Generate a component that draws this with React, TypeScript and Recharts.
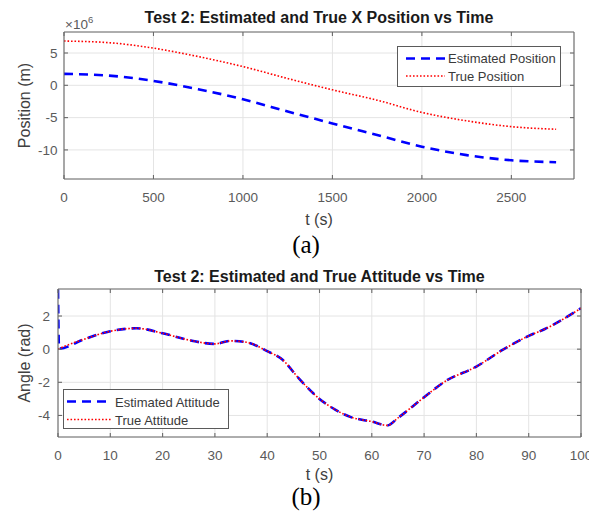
import React from 'react';
import { LineChart, Line, XAxis, YAxis, CartesianGrid, Legend } from 'recharts';

// ---------- Data (a): X position ----------
const posTime = [0, 250, 500, 750, 1000, 1250, 1500, 1750, 2000, 2250, 2500, 2750];
const estPos = [1.77, 1.5, 0.68, -0.6, -2.16, -4.05, -5.9, -7.7, -9.5, -10.8, -11.6, -11.9];
const truePos = [6.85, 6.6, 5.75, 4.45, 2.9, 1.05, -0.7, -2.3, -4.2, -5.5, -6.4, -6.8];
const posTicksX = [0, 500, 1000, 1500, 2000, 2500];
const posTicksY = [-10, -5, 0, 5];
const posDomainX = [0, 2850];
const posDomainY = [-14.5, 8.25];

// ---------- Data (b): attitude ----------
const attTime = [0, 0.2, 5, 10, 15, 20, 25, 30, 33, 36, 40, 43, 46, 50, 53, 56, 60, 63, 65, 70, 74, 80, 85, 90, 93, 100];
const estAtt = [3.6, 0.03, 0.6, 1.08, 1.26, 0.96, 0.55, 0.32, 0.5, 0.42, -0.12, -0.66, -1.75, -3.0, -3.65, -4.1, -4.37, -4.6, -4.15, -2.9, -1.95, -1.05, -0.05, 0.8, 1.2, 2.47];
const trueAtt = [0, 0.03, 0.6, 1.08, 1.26, 0.96, 0.55, 0.32, 0.5, 0.42, -0.12, -0.66, -1.75, -3.0, -3.65, -4.1, -4.37, -4.6, -4.15, -2.9, -1.95, -1.05, -0.05, 0.8, 1.2, 2.47];
const attTicksX = [0, 10, 20, 30, 40, 50, 60, 70, 80, 90, 100];
const attTicksY = [-4, -2, 0, 2];
const attDomainX = [0, 100];
const attDomainY = [-5.3, 3.63];

const posData = posTime.map((t, i) => ({ t, est: estPos[i], tru: truePos[i] }));
const attData = attTime.map((t, i) => ({ t, est: estAtt[i], tru: trueAtt[i] }));

const FONT = '"Liberation Sans", Arial, Helvetica, sans-serif';
const AX = '#6a6a6a';
const TICK = { fontSize: 13.5, fill: '#5a5a5a', fontFamily: FONT };
const BLUE = '#0000ff';
const RED = '#ff0000';
const noTick = () => <g />;
const axLine = { stroke: AX, strokeWidth: 1.1 };

type Item = { label: string; color: string; dash: string; width: number };

const LegendBox = ({ w, h, items, sx1, sx2, tx, rows }: { w: number; h: number; items: Item[]; sx1: number; sx2: number; tx: number; rows: { cy: number; base: number }[] }) => (
  <svg width={w} height={h} style={{ display: 'block' }}>
    <rect x={0.5} y={0.5} width={w - 1} height={h - 1} fill="#ffffff" stroke="#5a5a5a" strokeWidth={1} />
    {items.map((it, i) => (
      <g key={i}>
        <line x1={sx1} x2={sx2} y1={rows[i].cy} y2={rows[i].cy} stroke={it.color} strokeWidth={it.width} strokeDasharray={it.dash} />
        <text x={tx} y={rows[i].base} fontSize={13} fill="#3a3a3a" fontFamily={FONT}>{it.label}</text>
      </g>
    ))}
  </svg>
);

const EST_DASH = '9 6';
const TRUE_DASH = '1.6 1.9';

export default function App() {
  return (
    <div style={{ position: 'relative', width: 597, height: 518, margin: '-8px 0 0 -8px', background: '#ffffff', overflow: 'hidden' }}>
      {/* (a) */}
      <div style={{ position: 'absolute', left: 0, top: 0 }}>
        <LineChart width={597} height={250} data={posData} margin={{ top: 31, right: 22, left: 24, bottom: 41 }}>
          <CartesianGrid stroke="#e4e4e4" strokeWidth={1} />
          <XAxis dataKey="t" type="number" domain={posDomainX} ticks={posTicksX} allowDataOverflow height={30}
            tick={TICK} tickSize={-4} tickMargin={17} axisLine={axLine} tickLine={axLine} />
          <XAxis xAxisId="top" orientation="top" dataKey="t" type="number" domain={posDomainX} ticks={posTicksX} allowDataOverflow height={1}
            tick={noTick} tickSize={-4} axisLine={axLine} tickLine={axLine} />
          <YAxis type="number" domain={posDomainY} ticks={posTicksY} allowDataOverflow width={40}
            tick={TICK} tickSize={-4} tickMargin={10.5} axisLine={axLine} tickLine={axLine} />
          <YAxis yAxisId="right" orientation="right" type="number" domain={posDomainY} ticks={posTicksY} allowDataOverflow width={1}
            tick={noTick} tickSize={-4} axisLine={axLine} tickLine={axLine} />
          <Line dataKey="est" type="monotone" stroke={BLUE} strokeWidth={2.6} strokeDasharray={EST_DASH} dot={false} isAnimationActive={false} />
          <Line dataKey="tru" type="monotone" stroke={RED} strokeWidth={1.6} strokeDasharray={TRUE_DASH} dot={false} isAnimationActive={false} />
          <Legend layout="horizontal" verticalAlign="middle" align="center"
            wrapperStyle={{ left: 397, top: 46, width: 164, height: 41 }}
            content={() => (
              <LegendBox w={164} h={41} sx1={9} sx2={48} tx={51}
                rows={[{ cy: 12.5, base: 17.3 }, { cy: 30, base: 35 }]}
                items={[
                  { label: 'Estimated Position', color: BLUE, dash: EST_DASH, width: 2.6 },
                  { label: 'True Position', color: RED, dash: TRUE_DASH, width: 1.6 },
                ]} />
            )} />
        </LineChart>
      </div>

      {/* (b) */}
      <div style={{ position: 'absolute', left: 0, top: 250 }}>
        <LineChart width={597} height={268} data={attData} margin={{ top: 38, right: 15, left: 18, bottom: 51 }}>
          <CartesianGrid stroke="#e4e4e4" strokeWidth={1} />
          <XAxis dataKey="t" type="number" domain={attDomainX} ticks={attTicksX} allowDataOverflow height={30}
            tick={TICK} tickSize={-4} tickMargin={17} axisLine={axLine} tickLine={axLine} />
          <XAxis xAxisId="top" orientation="top" dataKey="t" type="number" domain={attDomainX} ticks={attTicksX} allowDataOverflow height={1}
            tick={noTick} tickSize={-4} axisLine={axLine} tickLine={axLine} />
          <YAxis type="number" domain={attDomainY} ticks={attTicksY} allowDataOverflow width={40}
            tick={TICK} tickSize={-4} tickMargin={12} axisLine={axLine} tickLine={axLine} />
          <YAxis yAxisId="right" orientation="right" type="number" domain={attDomainY} ticks={attTicksY} allowDataOverflow width={1}
            tick={noTick} tickSize={-4} axisLine={axLine} tickLine={axLine} />
          <Line dataKey="est" type="monotone" stroke={BLUE} strokeWidth={2.6} strokeDasharray={EST_DASH} dot={false} isAnimationActive={false} />
          <Line dataKey="tru" type="monotone" stroke={RED} strokeWidth={1.6} strokeDasharray={TRUE_DASH} dot={false} isAnimationActive={false} />
          <Legend layout="horizontal" verticalAlign="middle" align="center"
            wrapperStyle={{ left: 63, top: 139, width: 166, height: 40 }}
            content={() => (
              <LegendBox w={166} h={40} sx1={4} sx2={49} tx={52}
                rows={[{ cy: 12.5, base: 17.7 }, { cy: 30.5, base: 35.5 }]}
                items={[
                  { label: 'Estimated Attitude', color: BLUE, dash: EST_DASH, width: 2.6 },
                  { label: 'True Attitude', color: RED, dash: TRUE_DASH, width: 1.6 },
                ]} />
            )} />
        </LineChart>
      </div>

      {/* Text overlay: titles, axis labels, captions */}
      <svg width={597} height={518} style={{ position: 'absolute', left: 0, top: 0, pointerEvents: 'none' }}>
        <text x={319} y={23} textAnchor="middle" fontSize={16} fontWeight="bold" fill="#1a1a1a" fontFamily={FONT}>Test 2: Estimated and True X Position vs Time</text>
        <text x={65} y={28.5} fontSize={13.5} fill="#5a5a5a" fontFamily={FONT}>×10<tspan fontSize={9.5} dy={-5.5}>6</tspan></text>
        <text transform="translate(30,105.5) rotate(-90)" textAnchor="middle" fontSize={16} fill="#404040" fontFamily={FONT}>Position (m)</text>
        <text x={319} y={225} textAnchor="middle" fontSize={16} fill="#404040" fontFamily={FONT}>t (s)</text>
        <text x={306} y={253} textAnchor="middle" fontSize={25} fill="#000000" fontFamily='"Liberation Serif", "Times New Roman", serif'>(a)</text>

        <text x={319.5} y={282} textAnchor="middle" fontSize={16} fontWeight="bold" fill="#1a1a1a" fontFamily={FONT}>Test 2: Estimated and True Attitude vs Time</text>
        <text transform="translate(30,363) rotate(-90)" textAnchor="middle" fontSize={16} fill="#404040" fontFamily={FONT}>Angle (rad)</text>
        <text x={319.5} y={480} textAnchor="middle" fontSize={16} fill="#404040" fontFamily={FONT}>t (s)</text>
        <text x={306} y={505} textAnchor="middle" fontSize={25} fill="#000000" fontFamily='"Liberation Serif", "Times New Roman", serif'>(b)</text>
      </svg>
    </div>
  );
}
